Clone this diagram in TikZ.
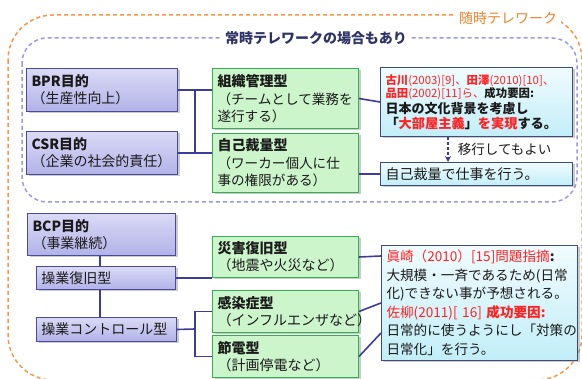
\documentclass[tikz,border=0pt]{standalone}
\usepackage{fontspec}
\setmainfont{Noto Sans CJK JP}
\usetikzlibrary{shadows,arrows.meta}
\definecolor{orD}{HTML}{F79646}
\definecolor{orT}{HTML}{F0822A}
\definecolor{blD}{HTML}{9A9AE0}
\definecolor{navT}{HTML}{2E3366}
\definecolor{lavB}{HTML}{4A4A9A}
\definecolor{lavT}{HTML}{DADAF6}
\definecolor{lavBo}{HTML}{B2B2E8}
\definecolor{lnC}{HTML}{3C3C9C}
\definecolor{grF}{HTML}{CCF5CC}
\definecolor{grB}{HTML}{33B050}
\definecolor{cyT}{HTML}{F0FBFE}
\definecolor{cyBo}{HTML}{C2EEF8}
\definecolor{cyB}{HTML}{3C4C7C}
\definecolor{redT}{HTML}{FF2222}
\definecolor{txt}{HTML}{1A1A1A}
\newcommand\fsz[2]{\fontsize{#1}{#2}\selectfont}
\begin{document}
\begin{tikzpicture}[x=1pt,y=-1pt,
  shd/.style={drop shadow={shadow xshift=2pt,shadow yshift=-2pt,fill=black!45,opacity=.45}},
  basebox/.style={anchor=north west,align=left,inner xsep=5pt,inner ysep=0pt,line width=1pt,text=txt,shd},
  lav/.style={basebox,draw=lavB,top color=lavT,bottom color=lavBo,font=\fsz{14}{17}},
  grn/.style={basebox,draw=grB,fill=grF,font=\fsz{14}{17}},
  cyb/.style={basebox,draw=cyB,top color=cyT,bottom color=cyBo,inner xsep=5pt},
  conn/.style={draw=lnC,line width=1.6pt},
  lbl/.style={fill=white,inner xsep=4pt,inner ysep=1pt}]
\useasboundingbox (0,0) rectangle (582,379);
% outer frames
\draw[orD,line width=1.5pt,dash pattern=on 4pt off 3pt,rounded corners=45pt] (8,15) rectangle (582,380);
\draw[blD,line width=1.5pt,dash pattern=on 4pt off 3pt,rounded corners=25pt] (22,38) rectangle (577,202);
\node[lbl,text=orT,font=\fsz{14}{16}] (zuiji) at (508,18) {随時テレワーク};
\node[lbl,text=navT,font=\bfseries\fsz{14}{16}] (joji) at (316,38) {常時テレワークの場合もあり};
% upper section
\node[lav,minimum width=151pt,minimum height=43pt,text width=141pt] (bpr) at (26,68) {\textbf{BPR目的}\\（生産性向上）};
\node[lav,minimum width=151pt,minimum height=43pt,text width=141pt] (csr) at (26,131) {\textbf{CSR目的}\\（企業の社会的責任）};
\node[grn,minimum width=146pt,minimum height=60pt,text width=136pt] (zs) at (212,68) {\textbf{組織管理型}\\[3pt]\fsz{13.6}{15}（チームとして業務を\\遂行する）};
\node[grn,minimum width=146pt,minimum height=59pt,text width=136pt] (jk) at (212,133) {\textbf{自己裁量型}\\[3pt]\fsz{13.6}{15}（ワーカー個人に仕\\事の権限がある）};
\node[cyb,minimum width=192pt,minimum height=69pt,text width=182pt] (tr1) at (380,67) {%
  \fsz{11.4}{13.5}{\color{redT}\textbf{古川}(2003)[9]、\textbf{田澤}(2010)[10]、}\\
  \fsz{11.4}{13.5}{\color{redT}\textbf{品田}(2002)[11]ら、}\textbf{成功要因:}\\[1pt]
  \fsz{13}{15}\textbf{日本の文化背景を考慮し}\\[1pt]
  \fsz{13.2}{16}\textbf{「{\color{redT}大部屋主義}」{\color{redT}を実現}する。}};
\node[cyb,minimum width=192pt,minimum height=23pt,text width=182pt,font=\fsz{14}{16}] (tr2) at (380,162) {自己裁量で仕事を行う。};
\draw[conn] (bpr.east) -- (zs.west |- bpr.east);
\draw[conn] (csr.east) -- (jk.west |- csr.east);
\coordinate (jx1) at (195,0);
\draw[conn] (bpr.east -| jx1) -- (csr.east -| jx1);
\draw[conn] (zs.east) -- (tr1.west);
\draw[conn] (jk.east |- tr2.west) -- (tr2.west);
\draw[lnC,line width=1.2pt,dash pattern=on 3pt off 2pt,-{Stealth[length=6pt,width=6pt]}] (tr1.south -| 448,0) -- (tr2.north -| 448,0) node[midway,right=6pt,text=txt,font=\fsz{13.5}{15}] (ikou) {移行してもよい};
% lower section
\node[lav,minimum width=148pt,minimum height=42pt,text width=138pt] (bcp) at (27,213) {\textbf{BCP目的}\\（事業継続）};
\node[lav,minimum width=139pt,minimum height=23pt,text width=129pt] (sf) at (36,266) {操業復旧型};
\node[lav,minimum width=140pt,minimum height=24pt,text width=130pt] (sc) at (36,317) {操業コントロール型};
\node[grn,minimum width=146pt,minimum height=41pt,text width=136pt] (sg) at (212,236) {\textbf{災害復旧型}\\（地震や火災など）};
\node[grn,minimum width=146pt,minimum height=42pt,text width=136pt] (kt) at (212,290) {\textbf{感染症型}\\（インフルエンザなど）};
\node[grn,minimum width=146pt,minimum height=42pt,text width=136pt] (sd) at (212,335) {\textbf{節電型}\\（計画停電など）};
\node[cyb,minimum width=196pt,minimum height=115pt,text width=186pt,font=\fsz{13.6}{18.5}] (br) at (381,245) {%
  {\color{redT}眞崎（2010）[15]問題指摘}\textbf{:}\\
  大規模・一斉であるため(日常\\
  化)できない事が予想される。\\
  {\color{redT}佐柳(2011)[ 16] \textbf{成功要因:}}\\
  日常的に使うようにし「対策の\\
  日常化」を行う。};
\coordinate (jx2) at (100,0);
\draw[conn] (bcp.south -| jx2) -- (sf.north -| jx2);
\draw[conn] (sf.south -| jx2) -- (sc.north -| jx2);
\draw[conn] (sf.east) -- (sg.west |- sf.east);
\coordinate (jx3) at (195,329);
\draw[conn] (sc.east) -- (jx3);
\draw[conn] (kt.west) -| (jx3) |- (sd.west);
\draw[conn] (sg.east) -- ([yshift=47pt]br.west);
\draw[conn] (kt.east) -- (br.west);
\draw[conn] (sd.east) -- ([yshift=-30pt]br.west);
\end{tikzpicture}
\end{document}
